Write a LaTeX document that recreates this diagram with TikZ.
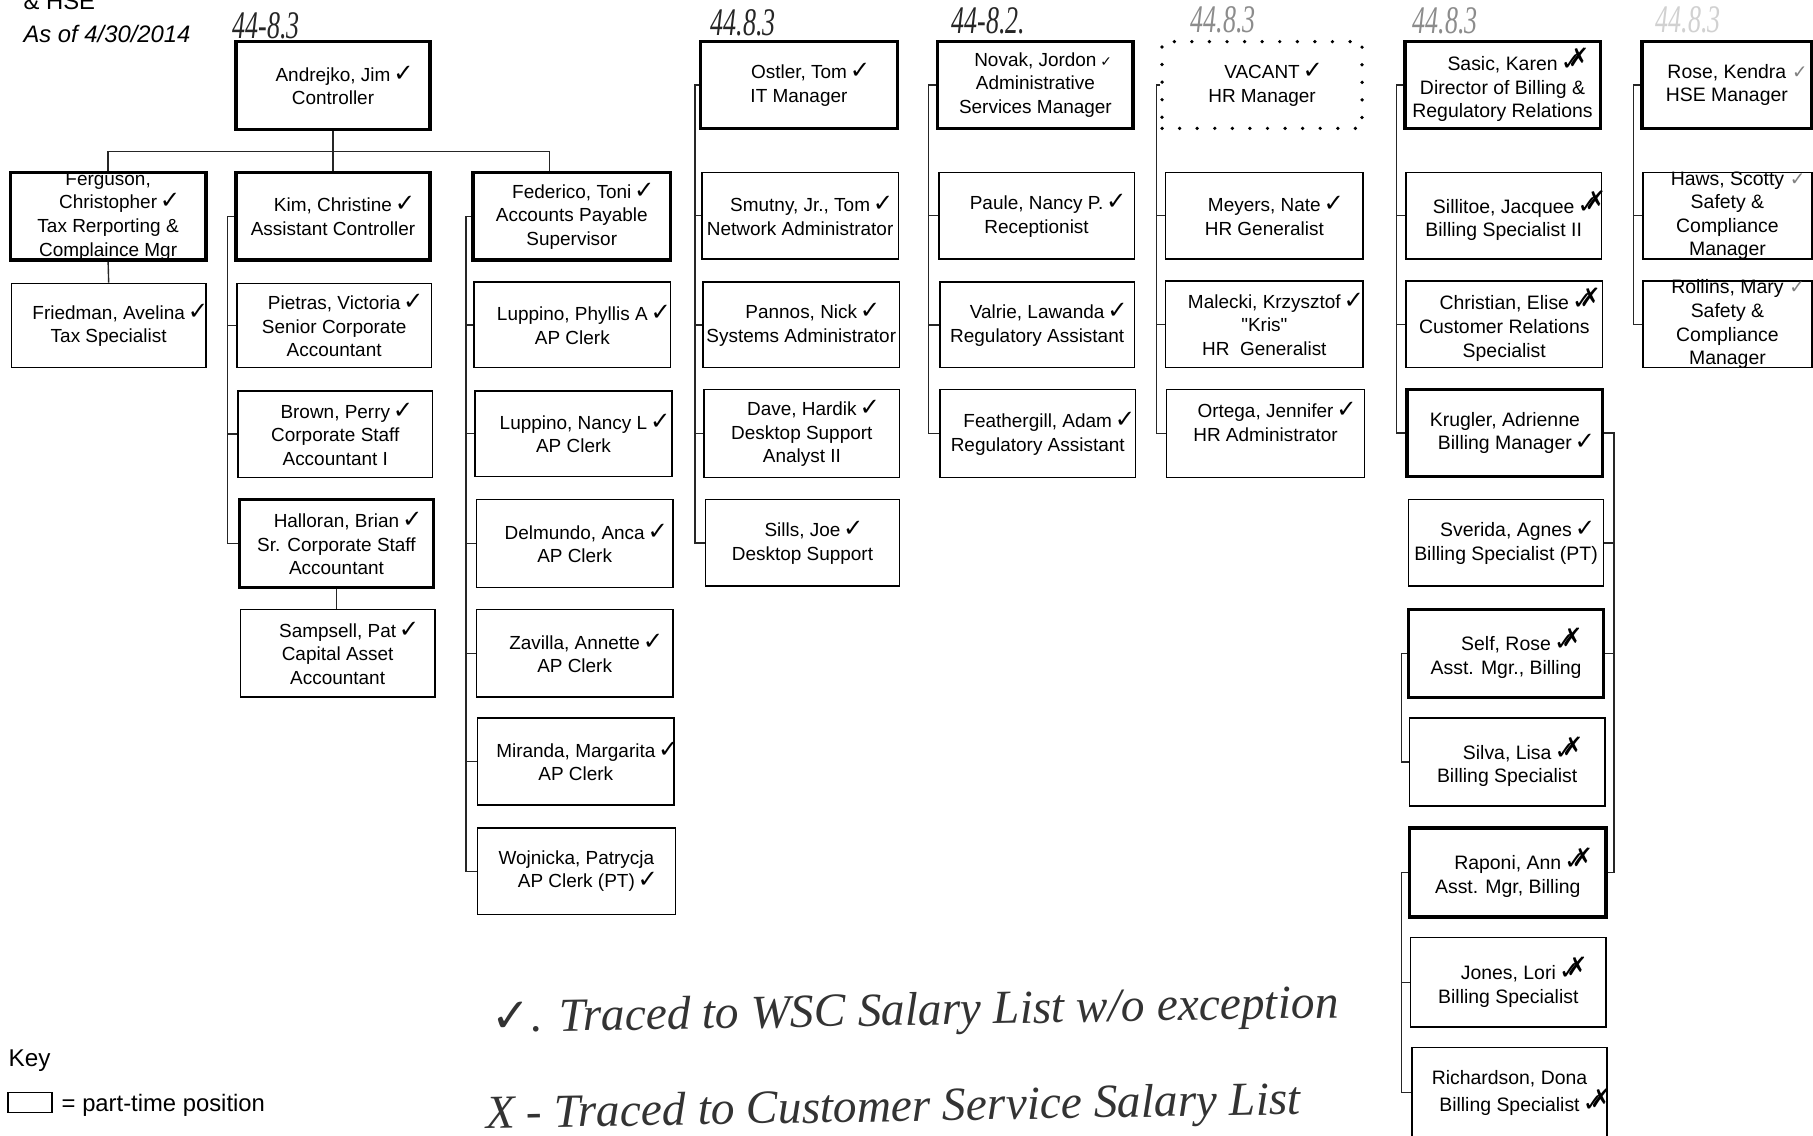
\documentclass[tikz,border=0pt]{standalone}
\usepackage{fontspec}
\usepackage{graphicx}
\setmainfont{Liberation Sans}
\newfontfamily\dv{DejaVu Sans}
\newfontfamily\hand{Liberation Serif}
\newcommand{\sq}{\XeTeXglyph\XeTeXcharglyph"0022\relax}
\newcommand{\ok}{\rlap{\hspace{0.15em}{\dv\fontsize{10.5}{10}\selectfont ✓}}}
\newcommand{\okx}{\rlap{\hspace{0.15em}{\dv\fontsize{11}{10}\selectfont\rlap{✓}\hspace{0.3em}\raisebox{0.15em}{✗}}}}
\newcommand{\oks}{\rlap{\hspace{0.2em}{\dv\fontsize{6}{6}\selectfont ✓}}}
\newcommand{\okg}{\rlap{\hspace{0.3em}{\color{black!50}\dv\fontsize{8}{8}\selectfont ✓}}}
\newcommand{\pbox}[8]{%
  \pgfmathsetmacro{\pbW}{(#4-#2)*0.5}%
  \pgfmathsetmacro{\pbH}{(#5-#3)*0.5}%
  \node[#6, minimum width=\pbW pt, minimum height=\pbH pt] (#1) at ({(#2+#4)/2},{(#3+#5)/2}) {};%
  \node[#7] (#1-t) at (#1.center) {#8};%
}
\begin{document}
\begin{tikzpicture}[x=0.5pt,y=-0.5pt,
  box/.style={draw=black, line width=0.65pt, inner sep=0pt},
  thickbox/.style={draw=black, line width=1.5pt, inner sep=0pt},
  dotbox/.style={draw=black, line width=1.6pt, dash pattern=on 0pt off 7.6pt, line cap=round, inner sep=0pt},
  txt/.style={align=center, font=\fontsize{8.2}{10.2}\selectfont, inner sep=0pt},
  txtb/.style={align=center, font=\fontsize{8.4}{10.2}\selectfont, inner sep=0pt},
  conn/.style={draw=black!85, line width=0.6pt},
  hw/.style={font=\hand\itshape\fontsize{12.5}{13}\selectfont, text=black!85, inner sep=0pt},
  note/.style={font=\hand\itshape\fontsize{20.5}{20}\selectfont, text=black!80, inner sep=0pt, anchor=base west},
  lbl/.style={inner sep=0pt, anchor=base west}
]
\fill[white] (0,0) rectangle (1568,982);
\useasboundingbox (0,0) rectangle (1568,982);
\clip (0,0) rectangle (1568,982);

% header
\node[lbl, font=\fontsize{10.3}{12}\selectfont] (hse) at (20,8) {\& HSE};
\node[lbl, font=\itshape\fontsize{10.3}{12}\selectfont] (asof) at (20,37) {As of 4/30/2014};

% handwritten codes
\node[hw] (c1) at (230,22) {\scalebox{0.9}[1.35]{44-8.3}};
\node[hw] (c2) at (643,20) {\scalebox{0.9}[1.35]{44.8.3}};
\node[hw] (c3) at (855,18) {\scalebox{0.9}[1.35]{44-8.2.}};
\node[hw, text=black!45] (c4) at (1058,17) {\scalebox{0.9}[1.35]{44.8.3}};
\node[hw, text=black!45] (c5) at (1250,18) {\scalebox{0.9}[1.35]{44.8.3}};
\node[hw, text=black!18] (c6) at (1460,17) {\scalebox{0.9}[1.35]{44.8.3}};

% column 1-3
\pbox{andrejko}{204}{36}{372}{112}{thickbox}{txt}{Andrejko, Jim\ok\\Controller}
\pbox{ferguson}{9}{149}{178}{225}{thickbox}{txt}{Ferguson,\\Christopher\ok\\Tax Rerporting \&\\Complaince Mgr}
\pbox{kim}{204}{149}{372}{225}{thickbox}{txt}{Kim, Christine\ok\\Assistant Controller}
\pbox{federico}{409}{149}{580}{225}{thickbox}{txt}{Federico, Toni\ok\\Accounts Payable\\Supervisor}
\pbox{friedman}{10}{245}{178}{318}{box}{txt}{Friedman, Avelina\ok\\Tax Specialist}
\pbox{pietras}{205}{245}{373}{318}{box}{txt}{Pietras, Victoria\ok\\Senior Corporate\\Accountant}
\pbox{brown}{206}{338}{374}{413}{box}{txt}{Brown, Perry\ok\\Corporate Staff\\Accountant I}
\pbox{halloran}{207}{432}{375}{508}{thickbox}{txt}{Halloran, Brian\ok\\Sr. Corporate Staff\\Accountant}
\pbox{sampsell}{208}{527}{376}{603}{box}{txt}{Sampsell, Pat\ok\\Capital Asset\\Accountant}
\pbox{lupP}{410}{244}{580}{318}{box}{txt}{Luppino, Phyllis A\ok\\AP Clerk}
\pbox{lupN}{411}{338}{581}{412}{box}{txt}{Luppino, Nancy L\ok\\AP Clerk}
\pbox{delm}{412}{432}{582}{508}{box}{txt}{Delmundo, Anca\ok\\AP Clerk}
\pbox{zav}{412}{527}{582}{603}{box}{txt}{Zavilla, Annette\ok\\AP Clerk}
\pbox{mir}{413}{621}{583}{696}{box}{txt}{Miranda, Margarita\ok\\AP Clerk}
\pbox{woj}{413}{716}{584}{791}{box}{txt}{Wojnicka, Patrycja\\AP Clerk (PT)\ok}

% column 4
\pbox{ostler}{606}{36}{776}{111}{thickbox}{txt}{Ostler, Tom\ok\\IT Manager}
\pbox{smutny}{607}{149}{777}{224}{box}{txt}{Smutny, Jr., Tom\ok\\Network Administrator}
\pbox{pannos}{608}{244}{778}{318}{box}{txt}{Pannos, Nick\ok\\Systems Administrator}
\pbox{dave}{609}{337}{778}{413}{box}{txt}{Dave, Hardik\ok\\Desktop Support\\Analyst II}
\pbox{sills}{610}{432}{778}{507}{box}{txt}{Sills, Joe\ok\\Desktop Support}

% column 5
\pbox{novak}{811}{36}{980}{111}{thickbox}{txt}{Novak, Jordon\oks\\Administrative\\Services Manager}
\pbox{paule}{812}{149}{981}{224}{box}{txt}{Paule, Nancy P.\ok\\Receptionist}
\pbox{valrie}{813}{244}{981}{318}{box}{txt}{Valrie, Lawanda\ok\\Regulatory Assistant}
\pbox{feath}{813}{337}{982}{413}{box}{txt}{Feathergill, Adam\ok\\Regulatory Assistant}

% column 6
\pbox{vacant}{1005}{36}{1178}{111}{dotbox}{txt}{VACANT\ok\\HR Manager}
\pbox{meyers}{1008}{149}{1179}{224}{box}{txt}{Meyers, Nate\ok\\HR Generalist}
\pbox{malecki}{1008}{243}{1179}{318}{box}{txt}{Malecki, Krzysztof\ok\\\sq Kris\sq\\HR\ \ Generalist}
\pbox{ortega}{1009}{337}{1180}{413}{box}{txt}{Ortega, Jennifer\ok\\HR Administrator\\\mbox{}}

% column 7
\pbox{sasic}{1215}{36}{1384}{111}{thickbox}{txtb}{Sasic, Karen\okx\\Director of Billing \&\\Regulatory Relations}
\pbox{sillitoe}{1216}{149}{1385}{224}{box}{txtb}{Sillitoe, Jacquee\okx\\Billing Specialist II}
\pbox{christian}{1216}{243}{1386}{318}{box}{txtb}{Christian, Elise\okx\\Customer Relations\\Specialist}
\pbox{krugler}{1217}{337}{1386}{412}{thickbox}{txtb}{Krugler, Adrienne\\Billing Manager\ok}
\pbox{sverida}{1218}{432}{1387}{507}{box}{txtb}{Sverida, Agnes\ok\\Billing Specialist (PT)}
\pbox{self}{1218}{527}{1387}{603}{thickbox}{txtb}{Self, Rose\okx\\Asst. Mgr., Billing}
\pbox{silva}{1219}{621}{1388}{697}{box}{txtb}{Silva, Lisa\okx\\Billing Specialist}
\pbox{raponi}{1219}{716}{1389}{793}{thickbox}{txtb}{Raponi, Ann\okx\\Asst. Mgr, Billing}
\pbox{jones}{1220}{811}{1389}{888}{box}{txtb}{Jones, Lori\okx\\Billing Specialist}
\pbox{richardson}{1221}{906}{1390}{984}{box}{txtb}{Richardson, Dona\\Billing Specialist\okx}

% column 8
\pbox{rose}{1420}{36}{1567}{111}{thickbox}{txtb}{Rose, Kendra\okg\\HSE Manager}
\pbox{haws}{1421}{149}{1567}{224}{box}{txtb}{Haws, Scotty\okg\\Safety \&\\Compliance\\Manager}
\pbox{rollins}{1421}{243}{1567}{318}{box}{txtb}{Rollins, Mary\okg\\Safety \&\\Compliance\\Manager}

% connector x positions
\coordinate (busY) at (0,131);
\coordinate (busR) at (475,0);
\coordinate (kimX) at (197,0);
\coordinate (fedX) at (403,0);
\coordinate (ostX) at (601,0);
\coordinate (novX) at (803,0);
\coordinate (vacX) at (1000,0);
\coordinate (sasX) at (1208,0);
\coordinate (krgX) at (1396,0);
\coordinate (selfX) at (1212,0);
\coordinate (rapX) at (1212,0);
\coordinate (roseX) at (1413,0);

% connectors
\draw[conn] (andrejko.south) -- (kim.north);
\draw[conn] (ferguson.north) -- (ferguson.north |- busY) -- (busR |- busY) -- (federico.north -| busR);
\draw[conn] (ferguson.south) -- (friedman.north);
\draw[conn] (halloran.south) -- (halloran.south |- sampsell.north);

\draw[conn] (kim.west) -- (kim.west -| kimX) -- (halloran.west -| kimX) -- (halloran.west);
\foreach \n in {pietras,brown} \draw[conn] (\n.west -| kimX) -- (\n.west);

\draw[conn] (federico.west) -- (federico.west -| fedX) -- (woj.west -| fedX) -- (woj.west);
\foreach \n in {lupP,lupN,delm,zav,mir} \draw[conn] (\n.west -| fedX) -- (\n.west);

\draw[conn] (ostler.west) -- (ostler.west -| ostX) -- (sills.west -| ostX) -- (sills.west);
\foreach \n in {smutny,pannos,dave} \draw[conn] (\n.west -| ostX) -- (\n.west);

\draw[conn] (novak.west) -- (novak.west -| novX) -- (feath.west -| novX) -- (feath.west);
\foreach \n in {paule,valrie} \draw[conn] (\n.west -| novX) -- (\n.west);

\draw[conn] (vacant.west) -- (vacant.west -| vacX) -- (ortega.west -| vacX) -- (ortega.west);
\foreach \n in {meyers,malecki} \draw[conn] (\n.west -| vacX) -- (\n.west);

\draw[conn] (sasic.west) -- (sasic.west -| sasX) -- (krugler.west -| sasX) -- (krugler.west);
\foreach \n in {sillitoe,christian} \draw[conn] (\n.west -| sasX) -- (\n.west);

\draw[conn] (krugler.east) -- (krugler.east -| krgX) -- (raponi.east -| krgX) -- (raponi.east);
\foreach \n in {sverida,self} \draw[conn] (\n.east -| krgX) -- (\n.east);

\draw[conn] (self.west) -- (self.west -| selfX) -- (silva.west -| selfX) -- (silva.west);
\draw[conn] (raponi.west) -- (raponi.west -| rapX) -- (richardson.west -| rapX) -- (richardson.west);
\draw[conn] (jones.west -| rapX) -- (jones.west);

\draw[conn] (rose.west) -- (rose.west -| roseX) -- (rollins.west -| roseX) -- (rollins.west);
\draw[conn] (haws.west -| roseX) -- (haws.west);

% key
\node[lbl, font=\fontsize{10.5}{12}\selectfont] (key) at (7,922) {Key};
\node[box, minimum width=19pt, minimum height=8.5pt] (keybox) at (26,953.5) {};
\node[lbl, font=\fontsize{10.3}{12}\selectfont] (keylbl) at (53,961) {= part-time position};

% handwritten notes
\node[note, rotate=1] (note1) at (425,893) {{\dv ✓}. Traced to WSC Salary List w/o exception};
\node[note, rotate=1] (note2) at (420,976) {X - Traced to Customer Service Salary List};
\end{tikzpicture}
\end{document}
